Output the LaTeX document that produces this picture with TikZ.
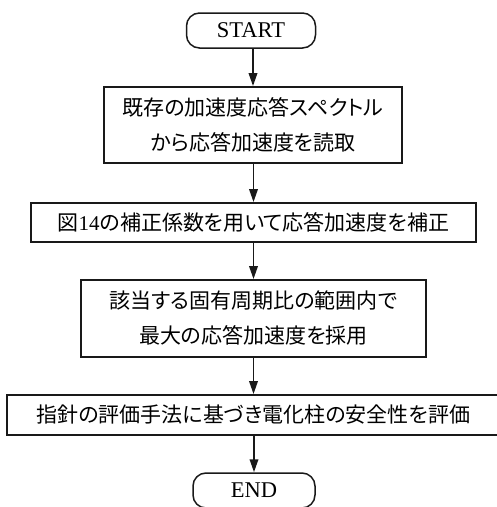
\documentclass[tikz,border=0pt]{standalone}
\usepackage{fontspec}
\setmainfont{Liberation Serif}
\newfontfamily\jp[RawFeature=+palt]{Noto Sans CJK JP}
\usetikzlibrary{arrows.meta}
\begin{document}
\begin{tikzpicture}[x=1pt,y=-1pt,
  proc/.style={draw=black!90,line width=1.8pt,fill=white,inner sep=0pt,align=center,
    font=\fontsize{21}{35}\selectfont\jp},
  term/.style={draw=black!90,line width=1.5pt,rounded corners=13pt,inner sep=0pt,
    minimum width=129pt,minimum height=35pt,font=\fontsize{22.5}{26}\selectfont},
  flow/.style={line width=1.9pt,draw=black!90,-{Triangle[length=13pt,width=8.5pt]}}]
\useasboundingbox (0,0) rectangle (497,507);
\node[term] (start) at (251,30.5) {START};
\node[proc,minimum width=298pt,minimum height=76pt] (b1) at (253,125)
  {既存の加速度応答スペクトル\\から応答加速度を読取};
\node[proc,minimum width=445pt,minimum height=39pt] (b2) at (253.5,222.5)
  {図{\rmfamily 14}の補正係数を用いて応答加速度を補正};
\node[proc,minimum width=345pt,minimum height=77pt] (b3) at (253.5,318.5)
  {該当する固有周期比の範囲内で\\最大の応答加速度を採用};
\node[proc,minimum width=493pt,minimum height=40pt] (b4) at (253.5,415)
  {指針の評価手法に基づき電化柱の安全性を評価};
\node[term,minimum width=122pt] (end) at (254,490.5) {END};
\draw[flow] (start.south -| b1.north) -- (b1.north);
\draw[flow] (b1.south -| b2.north) -- (b2.north);
\draw[flow] (b2.south) -- (b3.north);
\draw[flow] (b3.south) -- (b4.north);
\draw[flow] (b4.south -| end.north) -- (end.north);
\end{tikzpicture}
\end{document}
